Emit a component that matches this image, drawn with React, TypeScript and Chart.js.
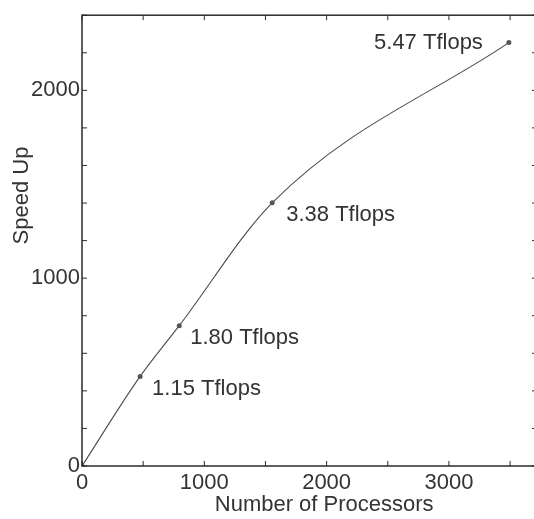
import React, { useEffect, useRef } from "react";
import { Chart, registerables } from "chart.js";

Chart.register(...registerables);

// ---- data ----
const processors = [0, 475, 795, 1555, 3490];
const speedUp = [0, 477, 747, 1401, 2254];
const pointLabels = ["", "1.15 Tflops", "1.80 Tflops", "3.38 Tflops", "5.47 Tflops"];
const xTitle = "Number of Processors";
const yTitle = "Speed Up";
const xMin = 0;
const xMax = 3720;
const yMin = 0;
const yMax = 2400;
const xTickValues = [0, 500, 1000, 1500, 2000, 2500, 3000, 3500];
const yTickValues = [0, 200, 400, 600, 800, 1000, 1200, 1400, 1600, 1800, 2000, 2200, 2400];
const labelEvery = 1000;

// label placement relative to each point (pixels) : [dx, dy, align]
const labelPlacement: [number, number, CanvasTextAlign][] = [
  [0, 0, "left"],
  [12, 19, "left"],
  [11, 18, "left"],
  [14, 18, "left"],
  [-26, 6, "right"],
];

const FONT = "'Liberation Sans', Arial, sans-serif";
const TEXT_COLOR = "#333";
const AXIS_COLOR = "#2a2a2a";

const framePlugin = {
  id: "frameAndText",
  afterDraw(chart: any) {
    const { ctx, chartArea } = chart;
    const xs = chart.scales.x;
    const ys = chart.scales.y;
    const { left, right, top, bottom } = chartArea;
    ctx.save();
    // frame
    ctx.strokeStyle = AXIS_COLOR;
    ctx.lineWidth = 1.5;
    ctx.strokeRect(left, top, right - left, bottom - top);
    // inward ticks
    ctx.lineWidth = 1;
    const tl = 5;
    xs.ticks.forEach((t: any) => {
      const px = xs.getPixelForValue(t.value);
      ctx.beginPath();
      ctx.moveTo(px, bottom);
      ctx.lineTo(px, bottom - tl);
      ctx.moveTo(px, top);
      ctx.lineTo(px, top + tl);
      ctx.stroke();
    });
    ys.ticks.forEach((t: any) => {
      const py = ys.getPixelForValue(t.value);
      ctx.beginPath();
      ctx.moveTo(left, py);
      ctx.lineTo(left + tl, py);
      ctx.moveTo(right, py);
      ctx.lineTo(right - tl, py);
      ctx.stroke();
    });
    // point labels
    ctx.fillStyle = TEXT_COLOR;
    ctx.font = `22px ${FONT}`;
    ctx.textBaseline = "alphabetic";
    const meta = chart.getDatasetMeta(0);
    meta.data.forEach((el: any, i: number) => {
      const txt = pointLabels[i];
      if (!txt) return;
      const [dx, dy, align] = labelPlacement[i];
      ctx.textAlign = align;
      ctx.fillText(txt, el.x + dx, el.y + dy);
    });
    // axis titles
    ctx.textAlign = "center";
    ctx.textBaseline = "alphabetic";
    ctx.fillText(xTitle, xs.getPixelForValue(1980), 511);
    ctx.save();
    ctx.translate(28, ys.getPixelForValue(1440));
    ctx.rotate(-Math.PI / 2);
    ctx.fillText(yTitle, 0, 0);
    ctx.restore();
    ctx.restore();
  },
};

const tickLabel = (v: any) => (Number(v) % labelEvery === 0 ? String(v) : "");

export default function App() {
  const ref = useRef<HTMLCanvasElement>(null);
  useEffect(() => {
    if (!ref.current) return;
    const chart = new Chart(ref.current, {
      type: "line",
      data: {
        datasets: [
          {
            data: processors.map((x, i) => ({ x, y: speedUp[i] })),
            borderColor: "#4a4a4a",
            borderWidth: 1.1,
            pointRadius: 2.5,
            pointBackgroundColor: "#555",
            pointBorderColor: "#555",
            pointBorderWidth: 0,
            cubicInterpolationMode: "monotone",
            fill: false,
          },
        ],
      },
      options: {
        animation: false,
        responsive: false,
        layout: { padding: { left: 0, top: 13, right: 13, bottom: 0 } },
        plugins: { legend: { display: false }, tooltip: { enabled: false } },
        scales: {
          x: {
            type: "linear",
            min: xMin,
            max: xMax,
            grid: { display: false, drawTicks: false },
            border: { display: false },
            afterFit: (s: any) => {
              s.height = 53;
            },
            afterBuildTicks: (s: any) => {
              s.ticks = xTickValues.map((value) => ({ value }));
            },
            ticks: {
              autoSkip: false,
              maxRotation: 0,
              padding: 4,
              color: TEXT_COLOR,
              font: { family: FONT, size: 22 },
              callback: tickLabel,
            },
          },
          y: {
            type: "linear",
            min: yMin,
            max: yMax,
            grid: { display: false, drawTicks: false },
            border: { display: false },
            afterFit: (s: any) => {
              s.width = 82;
            },
            afterBuildTicks: (s: any) => {
              s.ticks = yTickValues.map((value) => ({ value }));
            },
            ticks: {
              autoSkip: false,
              padding: 2,
              color: TEXT_COLOR,
              font: { family: FONT, size: 22 },
              callback: tickLabel,
            },
          },
        },
      },
      plugins: [framePlugin],
    });
    return () => chart.destroy();
  }, []);
  return (
    <div
      style={{
        position: "fixed",
        left: 0,
        top: 0,
        width: 534,
        height: 519,
        overflow: "hidden",
        background: "#fff",
      }}
    >
      <canvas ref={ref} width={550} height={519} style={{ display: "block" }} />
    </div>
  );
}
